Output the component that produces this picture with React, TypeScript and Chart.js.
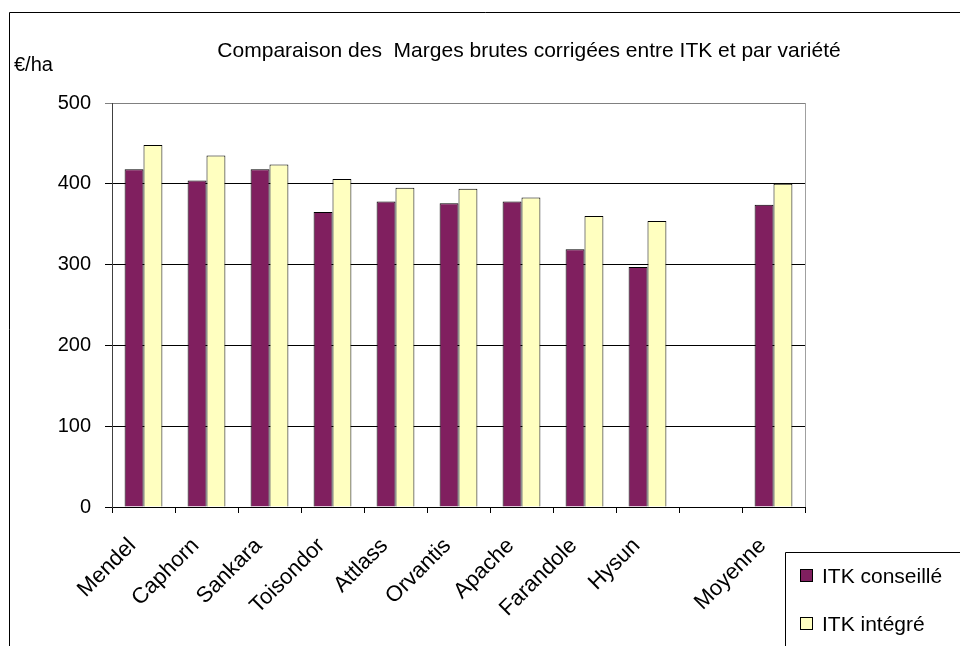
import React, { useEffect, useRef } from "react";
import { Chart, registerables } from "chart.js";

Chart.register(...registerables);

const categories = ["Mendel", "Caphorn", "Sankara", "Toisondor", "Attlass", "Orvantis", "Apache", "Farandole", "Hysun", "", "Moyenne"];
const itkConseille = [418, 404, 418, 365, 378, 376, 378, 319, 297, null, 374];
const itkIntegre = [448, 435, 424, 406, 395, 394, 383, 360, 354, null, 400];
const seriesLabels = ["ITK conseillé", "ITK intégré"];
const titleText = "Comparaison des  Marges brutes corrigées entre ITK et par variété";
const unitText = "€/ha";

const FONT = "'Liberation Sans', Arial, sans-serif";
const DARK = "#801F5F";
const LIGHT = "#FFFFC0";

const decorPlugin = {
  id: "decor",
  afterDraw(chart: any) {
    const ctx = chart.ctx;
    const ca = chart.chartArea;
    ctx.save();
    // outer border
    ctx.strokeStyle = "#000";
    ctx.lineWidth = 1;
    ctx.beginPath();
    ctx.moveTo(9.5, 700);
    ctx.lineTo(9.5, 12.5);
    ctx.lineTo(1000, 12.5);
    ctx.stroke();
    // plot area right border
    ctx.strokeStyle = "#a0a0a0";
    ctx.beginPath();
    ctx.moveTo(Math.round(ca.right) + 0.5, ca.top);
    ctx.lineTo(Math.round(ca.right) + 0.5, ca.bottom);
    ctx.stroke();
    // title
    ctx.fillStyle = "#000";
    ctx.font = `21px ${FONT}`;
    ctx.textAlign = "center";
    ctx.textBaseline = "alphabetic";
    ctx.fillText(titleText, 529, 57);
    // unit
    ctx.font = `20px ${FONT}`;
    ctx.textAlign = "left";
    ctx.fillText(unitText, 14, 71);
    // legend
    const lx = 785.5, ly = 552.5;
    ctx.strokeStyle = "#000";
    ctx.beginPath();
    ctx.moveTo(lx, 700);
    ctx.lineTo(lx, ly);
    ctx.lineTo(1000, ly);
    ctx.stroke();
    const items = chart.data.datasets;
    const rows = [576, 624];
    ctx.font = `21px ${FONT}`;
    ctx.textBaseline = "middle";
    items.forEach((ds: any, i: number) => {
      const cy = rows[i];
      ctx.fillStyle = ds.backgroundColor;
      ctx.fillRect(801, cy - 6, 11, 11);
      ctx.strokeStyle = "#000";
      ctx.strokeRect(800.5, cy - 6.5, 12, 12);
      ctx.fillStyle = "#000";
      ctx.fillText(ds.label, 822, cy + 1);
    });
    ctx.restore();
  },
};

export default function App() {
  const ref = useRef<HTMLCanvasElement>(null);
  useEffect(() => {
    document.body.style.margin = "0";
    const chart = new Chart(ref.current!, {
      type: "bar",
      data: {
        labels: categories,
        datasets: [
          {
            label: seriesLabels[0],
            data: itkConseille,
            backgroundColor: DARK,
            borderColor: "#000",
            borderWidth: 1,
            categoryPercentage: 0.6,
            barPercentage: 1,
          },
          {
            label: seriesLabels[1],
            data: itkIntegre,
            backgroundColor: LIGHT,
            borderColor: "#000",
            borderWidth: 1,
            categoryPercentage: 0.6,
            barPercentage: 1,
          },
        ],
      },
      options: {
        responsive: false,
        animation: false,
        layout: { padding: { left: 0, top: 103, right: 155, bottom: 0 } },
        plugins: {
          legend: { display: false },
          title: { display: false },
          tooltip: { enabled: false },
        },
        scales: {
          x: {
            grid: { drawOnChartArea: false, drawTicks: true, tickLength: 6, color: "#000", offset: true },
            border: { display: true, color: "#000", width: 1 },
            ticks: {
              font: { family: FONT, size: 22 },
              color: "#000",
              maxRotation: 45,
              minRotation: 45,
              autoSkip: false,
              padding: 20,
              labelOffset: -11,
            },
            afterFit(scale: any) {
              scale.height = 139;
            },
          },
          y: {
            min: 0,
            max: 500,
            ticks: {
              stepSize: 100,
              font: { family: FONT, size: 20 },
              color: "#000",
              padding: 14,
            },
            grid: {
              color: (c: any) => (c.tick && c.tick.value === 500 ? "#808080" : "#000"),
              tickLength: 7,
              lineWidth: 1,
            },
            border: { display: true, color: "#404040", width: 1 },
            afterFit(scale: any) {
              scale.width = 112;
            },
          },
        },
      },
      plugins: [decorPlugin],
    });
    return () => chart.destroy();
  }, []);
  return (
    <div style={{ position: "fixed", left: 0, top: 0, width: 960, height: 646, background: "#fff" }}>
      <canvas ref={ref} width={960} height={646} />
    </div>
  );
}
